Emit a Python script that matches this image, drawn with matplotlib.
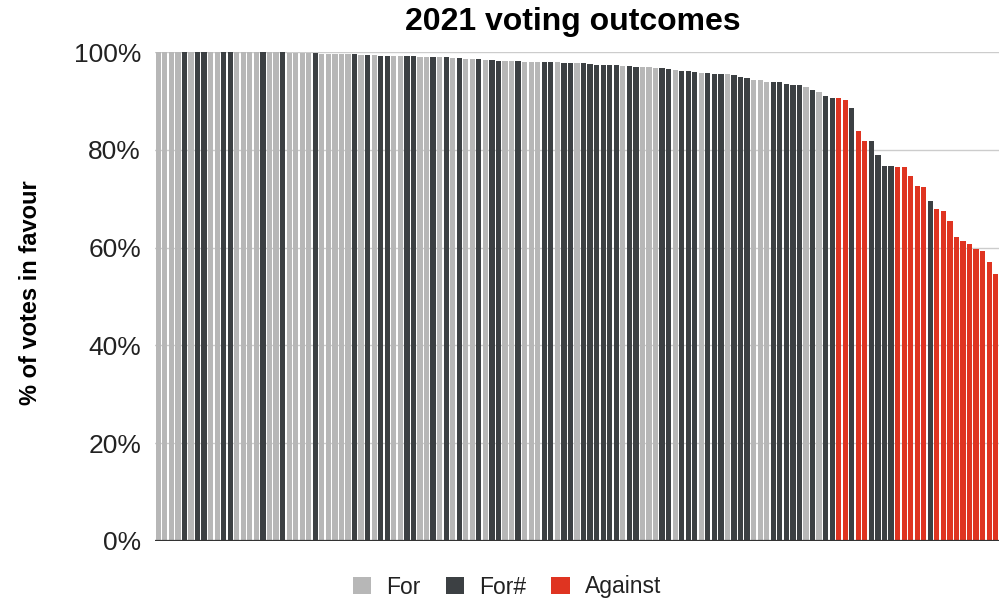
import matplotlib
matplotlib.use("Agg")
import matplotlib.pyplot as plt
from matplotlib.patches import Patch

# Share of votes in favour per resolution, sorted high to low
values = [
    100.0, 100.0, 100.0, 100.0, 100.0, 100.0, 100.0, 100.0, 100.0, 100.0,
    100.0, 100.0, 99.9, 99.9, 99.9, 99.9, 99.9, 99.9, 99.9, 99.9,
    99.8, 99.8, 99.8, 99.8, 99.8, 99.6, 99.5, 99.5, 99.5, 99.5,
    99.5, 99.4, 99.4, 99.3, 99.2, 99.2, 99.2, 99.2, 99.2, 99.2,
    99.0, 99.0, 98.9, 98.9, 98.9, 98.8, 98.8, 98.6, 98.5, 98.5,
    98.4, 98.4, 98.2, 98.1, 98.1, 98.1, 98.0, 98.0, 98.0, 98.0,
    97.9, 97.9, 97.8, 97.8, 97.8, 97.7, 97.5, 97.4, 97.4, 97.4,
    97.3, 97.1, 97.1, 97.0, 97.0, 96.9, 96.7, 96.7, 96.6, 96.4,
    96.1, 96.1, 96.0, 95.7, 95.7, 95.6, 95.5, 95.4, 95.2, 94.8,
    94.6, 94.3, 94.3, 93.8, 93.8, 93.8, 93.5, 93.3, 93.3, 92.9,
    92.2, 91.9, 90.9, 90.5, 90.5, 90.2, 88.5, 83.8, 81.8, 81.8,
    79.0, 76.6, 76.6, 76.4, 76.4, 74.6, 72.6, 72.3, 69.5, 67.9,
    67.4, 65.4, 62.2, 61.4, 60.7, 59.7, 59.4, 57.0, 54.7,
]

# Outcome category of each resolution: F = For, H = For#, A = Against
outcomes = (
    "FFFFHFHHFF" "HHFFFFHFFH" "FFFFHFFFFF" "HFHFHHFFHH"
    "FFHFHFHFFH" "FHHFFHFFFH" "HFHHFHHHHH" "HFHHFFFHHF"
    "HHHFHHHFHH" "HFFFHHHHHF" "HFHHAAHAAH" "HHHAAAAAHA"
    "AAAAAAAAA"
)

categories = ["For", "For#", "Against"]
category_codes = {"F": "For", "H": "For#", "A": "Against"}
palette = {"For": "#b7b7b7", "For#": "#3c4043", "Against": "#df3421"}
y_ticks = [0, 20, 40, 60, 80, 100]
y_tick_labels = ["0%", "20%", "40%", "60%", "80%", "100%"]

plt.rcParams["font.family"] = ["Liberation Sans", "DejaVu Sans"]

fig = plt.figure(figsize=(10.01, 5.99), dpi=100)
W, H = 1001, 599
ax = fig.add_axes([155 / W, 1 - 541 / H, (999 - 155) / W, (541 - 52) / H])

x = list(range(len(values)))
colors = [palette[category_codes[c]] for c in outcomes]
ax.bar(x, values, width=0.8, color=colors, linewidth=0, zorder=2)

ax.set_xlim(-0.5, len(values) - 0.5)
ax.set_ylim(0, 100)
ax.set_yticks(y_ticks)
ax.set_yticklabels(y_tick_labels)
ax.set_xticks([])
ax.tick_params(axis="y", length=0, pad=10, labelsize=19, labelcolor="#222222")

for t in y_ticks[1:]:
    ax.axhline(t, color="#cccccc", linewidth=1.0, zorder=1)
ax.axhline(0, color="#333333", linewidth=1.6, zorder=3)

for side in ["left", "right", "top", "bottom"]:
    ax.spines[side].set_visible(False)

fig.text(573 / W, 1 - 22 / H, "2021 voting outcomes", ha="center", va="center",
         fontsize=23, fontweight="bold", color="#000000")
fig.text(31 / W, 1 - 293 / H, "% of votes in favour", ha="center", va="center",
         rotation=90, fontsize=17, fontweight="bold", color="#000000")

handles = [Patch(facecolor=palette[c], edgecolor="none") for c in categories]
fig.legend(handles, categories, loc="center", bbox_to_anchor=(507 / W, 1 - 587 / H),
           ncol=3, frameon=False, fontsize=16.5, handlelength=0.8, handleheight=0.8,
           handletextpad=0.65, columnspacing=1.1, labelcolor="#222222")

fig.savefig("out.png", dpi=100)
